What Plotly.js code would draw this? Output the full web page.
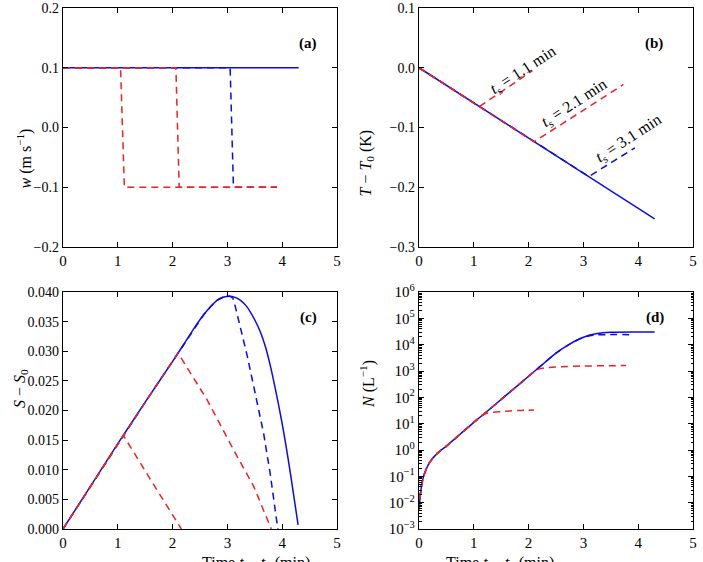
<!DOCTYPE html>
<html>
<head>
<meta charset="utf-8">
<script src="https://cdn.plot.ly/plotly-3.0.1.min.js"></script>
<style>html,body{margin:0;padding:0;background:#fff;}#chart{width:703px;height:562px;}</style>
</head>
<body>
<div id="chart"></div>
<script>
// ---------- Panel (a): vertical velocity ----------
const a_t_solid = [0, 4.3];
const a_w_solid = [0.1, 0.1];
const a_t_bdash = [0, 3.05, 3.11, 3.9];
const a_w_bdash = [0.1, 0.1, -0.1, -0.1];
const a_t_r1 = [0, 1.05, 1.12, 3.9];
const a_w_r1 = [0.1, 0.1, -0.1, -0.1];
const a_t_r2 = [0, 2.06, 2.12, 3.9];
const a_w_r2 = [0.1, 0.1, -0.1, -0.1];

// ---------- Panel (b): temperature ----------
const b_t_solid = [0, 4.3];
const b_T_solid = [0, -0.253];
const b_t_bdash = [0, 3.1, 3.94];
const b_T_bdash = [0, -0.182, -0.134];
const b_t_r1 = [0, 1.1, 2.07];
const b_T_r1 = [0, -0.065, -0.005];
const b_t_r2 = [0, 2.1, 3.73];
const b_T_r2 = [0, -0.124, -0.028];
const b_labels = ["<i>t</i><sub>s</sub> = 1.1 min", "<i>t</i><sub>s</sub> = 2.1 min", "<i>t</i><sub>s</sub> = 3.1 min"];
const b_label_t = [1.90, 2.83, 3.83];
const b_label_T = [-0.005, -0.060, -0.118];

// ---------- Panel (c): supersaturation ----------
const c_t_solid = [0, 0.5, 1.0, 1.5, 2.0, 2.2, 2.4, 2.57, 2.7, 2.81, 2.92, 3.035, 3.14, 3.24, 3.34, 3.42, 3.51, 3.6, 3.69, 3.78, 3.9, 4.03, 4.15, 4.29];
const c_S_solid = [0, 0.0072, 0.0144, 0.0214, 0.0283, 0.0311, 0.0340, 0.0362, 0.0376, 0.0386, 0.0391, 0.0393, 0.0391, 0.0386, 0.0377, 0.0366, 0.0351, 0.0333, 0.0309, 0.0277, 0.0225, 0.0162, 0.0094, 0.0007];
const c_t_bdash = [0, 0.5, 1.0, 1.5, 2.0, 2.2, 2.4, 2.57, 2.7, 2.81, 2.92, 3.035, 3.1, 3.145, 3.36, 3.55, 3.66, 3.78, 3.92];
const c_S_bdash = [0, 0.0072, 0.0144, 0.0214, 0.0283, 0.0311, 0.0340, 0.0362, 0.0376, 0.0386, 0.0391, 0.0393, 0.0390, 0.0375, 0.0293, 0.0212, 0.0162, 0.0094, 0];
const c_t_r1 = [0, 0.5, 1.0, 1.1, 1.6, 2.16];
const c_S_r1 = [0, 0.0072, 0.0144, 0.0158, 0.0083, 0];
const c_t_r2 = [0, 0.5, 1.0, 1.5, 2.0, 2.1, 2.63, 3.11, 3.48, 3.80];
const c_S_r2 = [0, 0.0072, 0.0144, 0.0214, 0.0283, 0.0297, 0.0218, 0.0134, 0.0072, 0];

// ---------- Panel (d): ice number concentration ----------
const d_t_solid = [0, 0.03, 0.06, 0.1, 0.2, 0.35, 0.5, 0.75, 1.0, 1.25, 1.5, 1.75, 2.0, 2.25, 2.5, 2.75, 3.0, 3.25, 3.5, 4.0, 4.3];
const d_N_solid = [0.005, 0.0251, 0.0631, 0.126, 0.355, 0.794, 1.41, 3.98, 11.2, 30.2, 83.2, 229, 631, 1740, 4790, 10500, 19100, 26300, 29500, 30200, 30200];
const d_t_bdash = [0, 0.03, 0.06, 0.1, 0.2, 0.35, 0.5, 0.75, 1.0, 1.25, 1.5, 1.75, 2.0, 2.25, 2.5, 2.75, 3.0, 3.1, 3.25, 3.4, 3.9];
const d_N_bdash = [0.005, 0.0251, 0.0631, 0.126, 0.355, 0.794, 1.41, 3.98, 11.2, 30.2, 83.2, 229, 631, 1740, 4790, 10500, 19100, 21500, 23500, 24000, 24000];
const d_t_r1 = [0, 0.03, 0.06, 0.1, 0.2, 0.35, 0.5, 0.75, 1.0, 1.1, 1.2, 1.3, 1.5, 1.8, 2.1];
const d_N_r1 = [0.005, 0.0251, 0.0631, 0.126, 0.355, 0.794, 1.41, 3.98, 11.2, 17.0, 23.4, 26.3, 28.8, 31.6, 33.1];
const d_t_r2 = [0, 0.03, 0.06, 0.1, 0.2, 0.35, 0.5, 0.75, 1.0, 1.25, 1.5, 1.75, 2.0, 2.1, 2.2, 2.3, 2.6, 3.0, 3.4, 3.78];
const d_N_r2 = [0.005, 0.0251, 0.0631, 0.126, 0.355, 0.794, 1.41, 3.98, 11.2, 30.2, 83.2, 229, 631, 955, 1200, 1320, 1450, 1550, 1580, 1620];
const d_tickvals = [0.001, 0.01, 0.1, 1, 10, 100, 1000, 10000, 100000, 1000000];
const d_ticktext = ["10<sup>−3</sup>", "10<sup>−2</sup>", "10<sup>−1</sup>", "10<sup>0</sup>", "10<sup>1</sup>", "10<sup>2</sup>", "10<sup>3</sup>", "10<sup>4</sup>", "10<sup>5</sup>", "10<sup>6</sup>"];

const BLUE = 'rgb(10,10,240)';
const RED = 'rgb(235,35,35)';
const DASH = '7px,5px';
const FONT = 'Liberation Serif';

function tr(x, y, xa, ya, color, dash, shape) {
  return {x: x, y: y, xaxis: xa, yaxis: ya, type: 'scatter', mode: 'lines',
    line: {color: color, width: 1.5, dash: dash, shape: shape || 'linear', smoothing: 0.8},
    hoverinfo: 'skip', showlegend: false};
}

const data = [
  tr(a_t_solid, a_w_solid, 'x', 'y', BLUE, 'solid'),
  tr(a_t_bdash, a_w_bdash, 'x', 'y', BLUE, DASH),
  tr(a_t_r1, a_w_r1, 'x', 'y', RED, DASH),
  tr(a_t_r2, a_w_r2, 'x', 'y', RED, DASH),

  tr(b_t_solid, b_T_solid, 'x2', 'y2', BLUE, 'solid'),
  tr(b_t_bdash, b_T_bdash, 'x2', 'y2', BLUE, DASH),
  tr(b_t_r1, b_T_r1, 'x2', 'y2', RED, DASH),
  tr(b_t_r2, b_T_r2, 'x2', 'y2', RED, DASH),

  tr(c_t_solid, c_S_solid, 'x3', 'y3', BLUE, 'solid', 'spline'),
  tr(c_t_bdash, c_S_bdash, 'x3', 'y3', BLUE, DASH),
  tr(c_t_r1, c_S_r1, 'x3', 'y3', RED, DASH),
  tr(c_t_r2, c_S_r2, 'x3', 'y3', RED, DASH),

  tr(d_t_solid, d_N_solid, 'x4', 'y4', BLUE, 'solid', 'spline'),
  tr(d_t_bdash, d_N_bdash, 'x4', 'y4', BLUE, DASH, 'spline'),
  tr(d_t_r1, d_N_r1, 'x4', 'y4', RED, DASH, 'spline'),
  tr(d_t_r2, d_N_r2, 'x4', 'y4', RED, DASH, 'spline')
];

const W = 703, H = 562;
function px(v) { return v / W; }
function py(v) { return 1 - v / H; }

function xax(dom, anchor) {
  return {domain: dom, anchor: anchor, range: [0, 5], dtick: 1, tick0: 0,
    ticks: 'inside', ticklen: 5, tickwidth: 1, tickcolor: '#000', mirror: 'ticks',
    showline: true, linecolor: '#000', linewidth: 1.2, showgrid: false, zeroline: false,
    tickfont: {family: FONT, size: 15, color: '#000'}};
}
function yax(dom, anchor, range, dtick, fmt) {
  return {domain: dom, anchor: anchor, range: range, dtick: dtick, tickformat: fmt,
    ticks: 'inside', ticklen: 5, tickwidth: 1, tickcolor: '#000', mirror: 'ticks',
    showline: true, linecolor: '#000', linewidth: 1.2, showgrid: false, zeroline: false,
    tickfont: {family: FONT, size: 14, color: '#000'}};
}

const xL = [px(63), px(337)], xR = [px(419), px(693)];
const yT = [py(247), py(8)], yB = [py(529), py(292)];

const yd = yax(yB, 'x4', [-3, 6], null, null);
yd.type = 'log';
delete yd.dtick; delete yd.tickformat;
yd.tickmode = 'array'; yd.tickvals = d_tickvals; yd.ticktext = d_ticktext;
yd.tickfont = {family: FONT, size: 15, color: '#000'};
yd.minor = {ticks: 'inside', ticklen: 2.5, tickcolor: '#000', dtick: 'D1', showgrid: false};

function ann(text, x, y, extra) {
  return Object.assign({text: text, x: x, y: y, xref: 'paper', yref: 'paper', showarrow: false,
    font: {family: FONT, size: 16, color: '#000'}}, extra || {});
}

const annotations = [
  ann('<b>(a)</b>', px(308), py(33), {font: {family: FONT, size: 15, color: '#000'}}),
  ann('<b>(b)</b>', px(665), py(33), {font: {family: FONT, size: 15, color: '#000'}}),
  ann('<b>(c)</b>', px(308), py(317), {font: {family: FONT, size: 15, color: '#000'}}),
  ann('<b>(d)</b>', px(666), py(317), {font: {family: FONT, size: 15, color: '#000'}}),
  ann('<i>w</i> (m s<sup>−1</sup>)', px(12), py(127), {textangle: -90}),
  ann('<i>T</i> − <i>T</i><sub>0</sub> (K)', px(366), py(127), {textangle: -90}),
  ann('<i>S</i> − <i>S</i><sub>0</sub>', px(9), py(410), {textangle: -90}),
  ann('<i>N</i> (L<sup>−1</sup>)', px(367), py(410), {textangle: -90}),
  ann('Time <i>t</i> − <i>t</i><sub>0</sub> (min)', px(200), py(552), {yanchor: 'top'}),
  ann('Time <i>t</i> − <i>t</i><sub>0</sub> (min)', px(556), py(552), {yanchor: 'top'})
];
for (let i = 0; i < b_labels.length; i++) {
  annotations.push({text: b_labels[i], x: b_label_t[i], y: b_label_T[i], xref: 'x2', yref: 'y2',
    showarrow: false, textangle: -33, font: {family: FONT, size: 16, color: '#000'}});
}

const layout = {
  width: W, height: H,
  margin: {l: 0, r: 0, t: 0, b: 0},
  paper_bgcolor: '#fff', plot_bgcolor: '#fff',
  showlegend: false,
  xaxis: xax(xL, 'y'),
  yaxis: yax(yT, 'x', [-0.2, 0.2], 0.1, '.1f'),
  xaxis2: xax(xR, 'y2'),
  yaxis2: yax(yT, 'x2', [-0.3, 0.1], 0.1, '.1f'),
  xaxis3: xax(xL, 'y3'),
  yaxis3: yax(yB, 'x3', [0, 0.04], 0.005, '.3f'),
  xaxis4: xax(xR, 'y4'),
  yaxis4: yd,
  annotations: annotations
};

Plotly.newPlot('chart', data, layout, {staticPlot: true, displayModeBar: false});
</script>
</body>
</html>
